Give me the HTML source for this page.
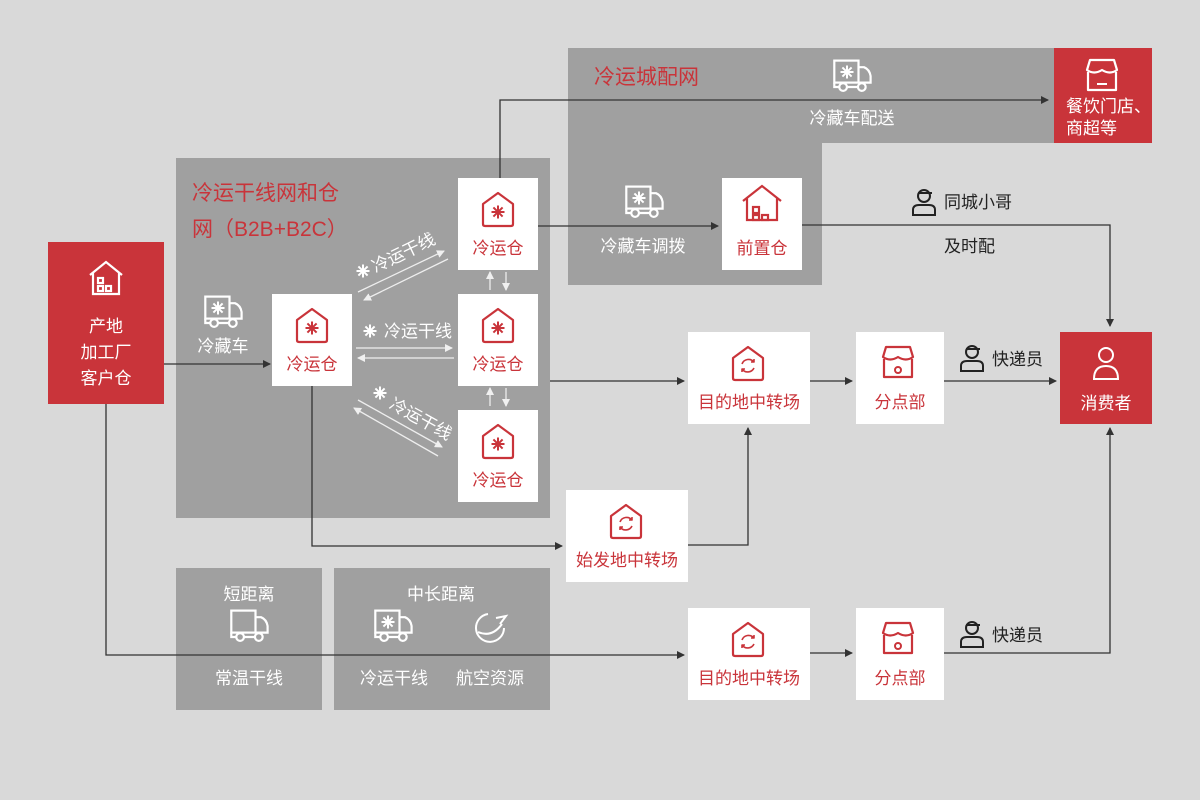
<!DOCTYPE html>
<html><head><meta charset="utf-8"><style>
html,body{margin:0;padding:0;background:#d9d9d9}
svg{display:block;font-family:"Liberation Sans","Noto Sans CJK SC",sans-serif}
</style></head><body>
<svg width="1200" height="800" viewBox="0 0 1200 800" xmlns="http://www.w3.org/2000/svg">
<defs>
<marker id="ab" markerWidth="8" markerHeight="8" refX="7" refY="4" orient="auto" markerUnits="userSpaceOnUse"><path d="M0,0 L8,4 L0,8 z" fill="#333"/></marker>
<marker id="aw" markerWidth="8" markerHeight="8" refX="7" refY="4" orient="auto" markerUnits="userSpaceOnUse"><path d="M0,0 L8,4 L0,8 z" fill="#f0f0f0"/></marker>
<g id="snow"><path d="M-6.5,0 H6.5 M0,-6.5 V6.5 M-4.6,-4.6 L4.6,4.6 M-4.6,4.6 L4.6,-4.6" stroke-width="2"/></g>
<g id="wh" fill="none" stroke="#c9343a" stroke-width="2.2" stroke-linejoin="round">
<path d="M-15,-6 L0,-17 L15,-6 V14 Q15,16 13,16 H-13 Q-15,16 -15,14 Z"/>
<use href="#snow" y="2" stroke="#c9343a"/>
</g>
<g id="tr" fill="none" stroke="#c9343a" stroke-width="2.2" stroke-linejoin="round">
<path d="M-15,-6 L0,-17 L15,-6 V14 Q15,16 13,16 H-13 Q-15,16 -15,14 Z"/>
<path d="M-6,0 A7,7 0 0 1 6,-2 M6,-5 V-2 H3 M6,4 A7,7 0 0 1 -6,5 M-6,8 V5 H-3" stroke-width="1.6"/>
</g>
<g id="truck" fill="none" stroke="#fff" stroke-width="2" transform="scale(1.1)">
<rect x="-17" y="-14" width="22" height="20"/>
<path d="M5,-8 H10 Q15,-6 16,0 V6 H5"/>
<circle cx="-9" cy="10" r="3.5"/><circle cx="8" cy="10" r="3.5"/>
<path d="M-17,6 V10 H-13 M-5,10 H4"/>
</g>
<g id="cotruck"><use href="#truck"/><use href="#snow" x="-6" y="-4" stroke="#fff"/></g>
<g id="shop" fill="none" stroke-width="2.2" stroke-linejoin="round">
<path d="M-14,-4 V14 H14 V-4"/><path d="M-15,-6 L-12,-16 H12 L15,-6 Q8,-1 0,-6 Q-8,-1 -15,-6 Z"/>
</g>
<g id="person" fill="none" stroke="#222" stroke-width="2">
<circle cx="0" cy="-6" r="6"/><path d="M-6,-9 H8"/><path d="M-11,13 V8 Q-11,3 -5,3 H5 Q11,3 11,8 V13 Z"/>
</g>
</defs>

<path d="M568,48 H1054 V143 H822 V285 H568 Z" fill="#a0a0a0"/>
<rect x="176" y="158" width="374" height="360" fill="#a0a0a0"/>
<rect x="176" y="568" width="146" height="142" fill="#a0a0a0"/>
<rect x="334" y="568" width="216" height="142" fill="#a0a0a0"/>

<g stroke="#333" stroke-width="1.3" fill="none">
<path d="M164,364 H270" marker-end="url(#ab)"/>
<path d="M500,178 V100 H1048" marker-end="url(#ab)"/>
<path d="M538,226 H718" marker-end="url(#ab)"/>
<path d="M802,225 H1110 V326" marker-end="url(#ab)"/>
<path d="M550,381 H684" marker-end="url(#ab)"/>
<path d="M810,381 H852" marker-end="url(#ab)"/>
<path d="M944,381 H1056" marker-end="url(#ab)"/>
<path d="M312,386 V546 H562" marker-end="url(#ab)"/>
<path d="M688,545 H748 V428" marker-end="url(#ab)"/>
<path d="M106,404 V655 H684" marker-end="url(#ab)"/>
<path d="M810,653 H852" marker-end="url(#ab)"/>
<path d="M944,653 H1110 V428" marker-end="url(#ab)"/>
</g>
<g stroke="#eee" stroke-width="1.3" fill="none">
<path d="M358,292 L444,251" marker-end="url(#aw)"/>
<path d="M448,259 L364,300" marker-end="url(#aw)"/>
<path d="M356,348 H452" marker-end="url(#aw)"/>
<path d="M454,358 H358" marker-end="url(#aw)"/>
<path d="M358,400 L442,447" marker-end="url(#aw)"/>
<path d="M438,456 L354,408" marker-end="url(#aw)"/>
<path d="M490,290 V272" marker-end="url(#aw)"/>
<path d="M506,272 V290" marker-end="url(#aw)"/>
<path d="M490,406 V388" marker-end="url(#aw)"/>
<path d="M506,388 V406" marker-end="url(#aw)"/>
</g>

<rect x="48" y="242" width="116" height="162" fill="#c9343a"/>
<rect x="1054" y="48" width="98" height="95" fill="#c9343a"/>
<rect x="1060" y="332" width="92" height="92" fill="#c9343a"/>

<g fill="#fff">
<rect x="272" y="294" width="80" height="92"/>
<rect x="458" y="178" width="80" height="92"/>
<rect x="458" y="294" width="80" height="92"/>
<rect x="458" y="410" width="80" height="92"/>
<rect x="722" y="178" width="80" height="92"/>
<rect x="688" y="332" width="122" height="92"/>
<rect x="856" y="332" width="88" height="92"/>
<rect x="566" y="490" width="122" height="92"/>
<rect x="688" y="608" width="122" height="92"/>
<rect x="856" y="608" width="88" height="92"/>
</g>

<use href="#wh" x="312" y="326"/>
<use href="#wh" x="498" y="210"/>
<use href="#wh" x="498" y="326"/>
<use href="#wh" x="498" y="442"/>
<use href="#tr" x="748" y="364"/>
<use href="#tr" x="626" y="522"/>
<use href="#tr" x="748" y="640"/>
<g fill="none" stroke="#c9343a" stroke-width="2.2"><path d="M743,201 L762,186 L781,201 M747,198 V220 H777 V198"/><rect x="753" y="207" width="6" height="6"/><rect x="753" y="215" width="6" height="5"/><rect x="762" y="215" width="6" height="5"/></g>
<g fill="none" stroke="#fff" stroke-width="2.2"><path d="M90,275 L106,262 L122,275 M93,272 V294 H119 V272"/><rect x="98" y="278" width="5" height="5"/><rect x="98" y="286" width="5" height="5"/><rect x="106" y="286" width="5" height="5"/></g>
<use href="#shop" x="898" y="363" stroke="#c9343a"/><circle cx="898" cy="370" r="3" fill="none" stroke="#c9343a" stroke-width="2"/>
<use href="#shop" x="898" y="639" stroke="#c9343a"/><circle cx="898" cy="646" r="3" fill="none" stroke="#c9343a" stroke-width="2"/>
<use href="#shop" x="1102" y="76" stroke="#fff"/><path d="M1097,84 H1107" stroke="#fff" stroke-width="2"/>
<g fill="none" stroke="#fff" stroke-width="2"><circle cx="1106" cy="355" r="7"/><path d="M1094,379 Q1094,366 1106,366 Q1118,366 1118,379 Z"/></g>
<use href="#cotruck" x="224" y="312"/>
<use href="#cotruck" x="853" y="76"/>
<use href="#cotruck" x="645" y="202"/>
<use href="#truck" x="250" y="626"/>
<use href="#cotruck" x="394" y="626"/>
<g fill="none" stroke="#fff" stroke-width="2"><path d="M504,628 A14,14 0 1 1 488,614"/><path d="M478,632 Q492,638 502,624"/><path d="M496,618 L506,616 L500,624"/></g>
<use href="#person" x="924" y="202"/>
<use href="#person" x="972" y="358"/>
<use href="#person" x="972" y="634"/>
<use href="#snow" x="363" y="271" stroke="#fff"/>
<use href="#snow" x="370" y="331" stroke="#fff"/>
<use href="#snow" x="380" y="393" stroke="#fff"/>

<g font-size="17" text-anchor="middle" fill="#c9343a">
<text x="312" y="370">冷运仓</text>
<text x="498" y="254">冷运仓</text>
<text x="498" y="370">冷运仓</text>
<text x="498" y="486">冷运仓</text>
<text x="762" y="254">前置仓</text>
<text x="749" y="408">目的地中转场</text>
<text x="900" y="408">分点部</text>
<text x="627" y="566">始发地中转场</text>
<text x="749" y="684">目的地中转场</text>
<text x="900" y="684">分点部</text>
</g>
<g font-size="21" fill="#c9343a">
<text x="594" y="84">冷运城配网</text>
<text x="192" y="200">冷运干线网和仓</text>
<text x="192" y="236">网（B2B+B2C）</text>
</g>
<g font-size="17" fill="#fff" text-anchor="middle">
<text x="106" y="332">产地</text>
<text x="106" y="358">加工厂</text>
<text x="106" y="384">客户仓</text>
<text x="1106" y="409">消费者</text>
<text x="223" y="352">冷藏车</text>
<text x="852" y="124">冷藏车配送</text>
<text x="643" y="252">冷藏车调拨</text>
<text x="249" y="600">短距离</text>
<text x="249" y="684">常温干线</text>
<text x="441" y="600">中长距离</text>
<text x="394" y="684">冷运干线</text>
<text x="490" y="684">航空资源</text>
<text x="418" y="337">冷运干线</text>
<text transform="translate(406,258) rotate(-26)">冷运干线</text>
<text transform="translate(418,424) rotate(29)">冷运干线</text>
</g>
<g font-size="17" fill="#fff">
<text x="1066" y="112">餐饮门店、</text>
<text x="1066" y="134">商超等</text>
</g>
<g font-size="17" fill="#222">
<text x="944" y="208">同城小哥</text>
<text x="944" y="252">及时配</text>
<text x="992" y="365">快递员</text>
<text x="992" y="641">快递员</text>
</g>
</svg>
</body></html>
